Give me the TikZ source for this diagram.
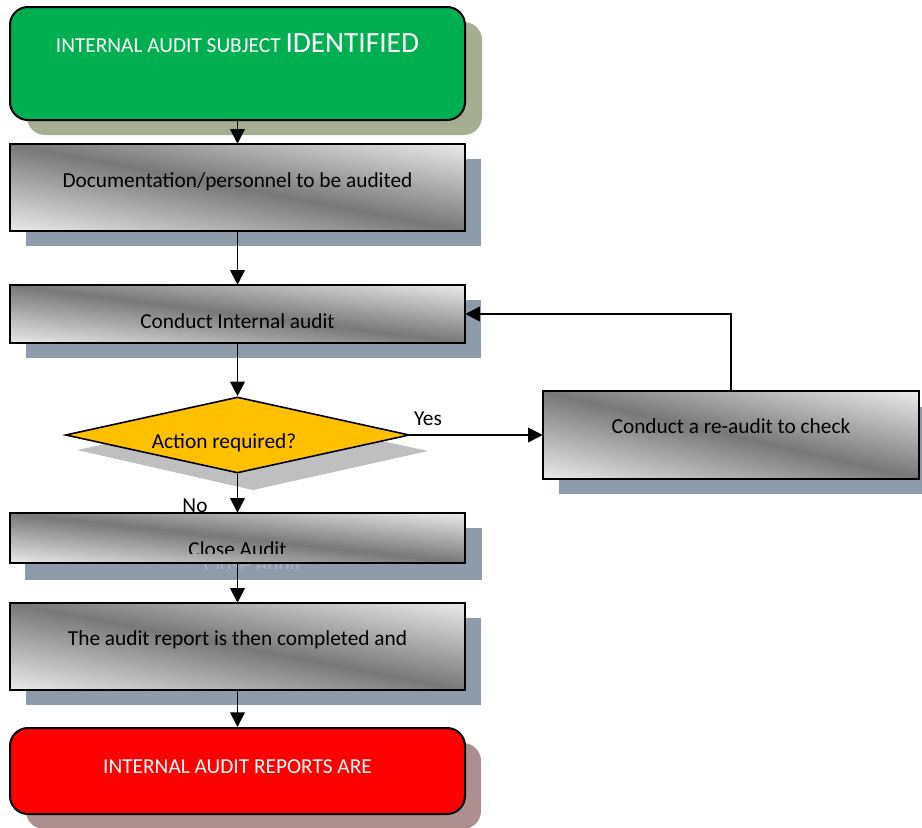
\documentclass[tikz,border=0pt]{standalone}
\usepackage{fontspec}
\setmainfont{Carlito}
\usetikzlibrary{arrows.meta,shapes.geometric,shadows}
\definecolor{boxgreen}{HTML}{00B050}
\definecolor{greenshadow}{HTML}{A5AE91}
\definecolor{slate}{HTML}{8E9BAB}
\definecolor{redshadow}{HTML}{AE8F8F}
\definecolor{diashadow}{HTML}{BFBFBF}
\definecolor{diafill}{HTML}{FFC000}
\definecolor{midgray}{HTML}{787878}
\definecolor{ghostslate}{HTML}{A9B5C3}
\pgfdeclareverticalshading{sheen}{100bp}{color(0bp)=(white); color(8bp)=(white); color(50bp)=(midgray); color(92bp)=(white); color(100bp)=(white)}
% diagonal grey sheen filling a box given by its top-left corner, width and height (px)
\newcommand{\sheenfill}[4]{%
  \shade[transform canvas={shift={(#1,#2)},xscale=#3/100,yscale=#4/100},
         shading=sheen, shading angle=-45] (0,0) rectangle (100,100);}
\begin{document}
\begin{tikzpicture}[x=0.75pt,y=-0.75pt,
  font=\fontsize{16}{19}\selectfont,
  base/.style={draw=black, line width=1.5pt, inner sep=0pt, minimum width=341.25pt},
  plainbox/.style={inner sep=0pt, minimum width=341.25pt, fill=white},
  slateshadow/.style={drop shadow={shadow xshift=12pt, shadow yshift=-11.25pt, fill=slate, opacity=1}},
  roundbox/.style={base, rounded corners=13.5pt},
  border/.style={draw=black, line width=1.5pt},
  flow/.style={line width=1.3pt, -{Triangle[length=11pt,width=11pt]}},
  lbl/.style={anchor=base, inner sep=0pt},
  whitelbl/.style={lbl, text=white}
]
\useasboundingbox (0,0) rectangle (922,828);

% top terminal
\node[roundbox, fill=boxgreen, minimum height=84.75pt,
      drop shadow={shadow xshift=12.75pt, shadow yshift=-11.25pt, fill=greenshadow, opacity=1}]
      (b1) at (237.5,63.5) {};
\node[whitelbl] (t1) at (237.5,52) {INTERNAL AUDIT SUBJECT {\fontsize{22}{26}\selectfont IDENTIFIED}};

% process box 2
\node[plainbox, slateshadow, minimum height=65.25pt] (b2) at (237.5,187.5) {};
\sheenfill{10}{144}{455}{87}
\draw[border] (b2.north west) rectangle (b2.south east);
\node[lbl] (t2) at (237.5,187) {Documentation/personnel to be audited};

% process box 3
\node[plainbox, slateshadow, minimum height=43.5pt] (b3) at (237.5,314) {};
\sheenfill{10}{285}{455}{58}
\draw[border] (b3.north west) rectangle (b3.south east);
\node[lbl] (t3) at (237.5,328) {Conduct Internal audit};

% decision
\fill[diashadow] (77,450) -- (253,413) -- (428,451) -- (253,490) -- cycle;
\node[diamond, draw=black, line width=1.2pt, fill=diafill, inner sep=0pt,
      minimum width=258pt, minimum height=57pt] (dia) at (237.5,435) {};
\node[lbl] (tdia) at (224,448) {Action required?};

% re-audit box
\node[plainbox, slateshadow, minimum width=282pt, minimum height=65.25pt] (re) at (731,435) {};
\sheenfill{543}{391.5}{376}{87}
\draw[border] (re.north west) rectangle (re.south east);
\node[lbl] (tre) at (731,433) {Conduct a re-audit to check};

% close audit
\fill[slate] (25,528) rectangle (482,580);
\begin{scope}
  \clip (0,450) rectangle (922,568);
  \node[lbl, text=ghostslate] (gclose) at (253,571) {Close Audit};
\end{scope}
\node[plainbox, minimum height=37.5pt] (b4) at (237.5,538) {};
\sheenfill{10}{513}{455}{50}
\draw[border] (b4.north west) rectangle (b4.south east);
\begin{scope}
  \clip (10,513) rectangle (465,553);
  \node[lbl] (t4) at (237.5,556) {Close Audit};
\end{scope}

% process box 5
\node[plainbox, slateshadow, minimum height=65.25pt] (b5) at (237.5,646.5) {};
\sheenfill{10}{603}{455}{87}
\draw[border] (b5.north west) rectangle (b5.south east);
\node[lbl] (t5) at (237.5,645) {The audit report is then completed and};

% end terminal
\node[roundbox, fill=red, minimum height=64.5pt,
      drop shadow={shadow xshift=12pt, shadow yshift=-11.25pt, fill=redshadow, opacity=1}]
      (b6) at (237.5,771) {};
\node[whitelbl] (t6) at (237.5,773) {INTERNAL AUDIT REPORTS ARE};

% connectors
\draw[flow] (b1.south) -- (b2.north);
\draw[flow] (b2.south) -- (b3.north);
\draw[flow] (b3.south) -- (dia.north);
\draw[flow] (dia.south) -- (b4.north);
\draw[flow] (b4.south) -- (b5.north);
\draw[flow] (b5.south) -- (b6.north);
\draw[flow] (dia.east) -- (re.west);
\draw[flow] (re.north) |- (b3.east);

\node[lbl] (yes) at (428,425) {Yes};
\node[lbl] (no) at (195,512) {No};
\end{tikzpicture}
\end{document}
